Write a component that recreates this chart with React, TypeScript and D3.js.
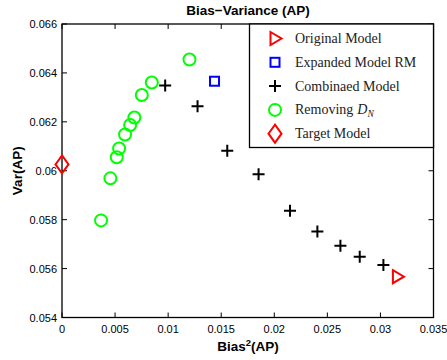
import React from "react";
import * as d3 from "d3";

const xTicks = [0, 0.005, 0.01, 0.015, 0.02, 0.025, 0.03, 0.035];
const yTicks = [0.054, 0.056, 0.058, 0.06, 0.062, 0.064, 0.066];
const xTickLabels = ["0", "0.005", "0.01", "0.015", "0.02", "0.025", "0.03", "0.035"];
const yTickLabels = ["0.054", "0.056", "0.058", "0.06", "0.062", "0.064", "0.066"];

const originalX = [0.0316];
const originalY = [0.05567];
const expandedX = [0.01437];
const expandedY = [0.06366];
const targetX = [0.0];
const targetY = [0.06026];
const combinedX = [0.00972, 0.01277, 0.01557, 0.01852, 0.02148, 0.02406, 0.02623, 0.02805, 0.03028];
const combinedY = [0.06349, 0.06264, 0.06082, 0.05986, 0.05836, 0.05752, 0.05693, 0.05648, 0.05615];
const removingX = [0.01201, 0.00846, 0.00752, 0.00682, 0.00642, 0.00594, 0.00538, 0.00516, 0.00456, 0.00368];
const removingY = [0.06455, 0.06361, 0.0631, 0.06218, 0.06187, 0.06148, 0.06091, 0.06055, 0.05969, 0.05797];

const legendLabels = ["Original Model", "Expanded Model RM", "Combinaed Model", "Removing", "Target Model"];

const W = 447, H = 360;
const L = 62, R = 433.5, T = 24, B = 317.5;

function Marker({ kind, x, y }: { kind: string; x: number; y: number }) {
  if (kind === "tri")
    return <path d={`M${x - 4.5},${y - 6.5} L${x + 6.5},${y} L${x - 4.5},${y + 6.5} Z`} fill="none" stroke="#ff0000" strokeWidth={2} />;
  if (kind === "sq")
    return <rect x={x - 4.5} y={y - 4.5} width={9} height={9} fill="none" stroke="#0000ff" strokeWidth={2} />;
  if (kind === "plus")
    return <path d={`M${x - 6},${y} H${x + 6} M${x},${y - 6} V${y + 6}`} stroke="#000" strokeWidth={2} />;
  if (kind === "circ")
    return <circle cx={x} cy={y} r={6} fill="none" stroke="#00ff00" strokeWidth={2} />;
  if (kind === "dia")
    return <path d={`M${x},${y - 9} L${x + 6.5},${y} L${x},${y + 9} L${x - 6.5},${y} Z`} fill="none" stroke="#ff0000" strokeWidth={2} />;
  return null;
}

export default function App() {
  const x = d3.scaleLinear().domain([0, 0.035]).range([L, R]);
  const y = d3.scaleLinear().domain([0.054, 0.066]).range([B, T]);
  const sans = "Liberation Sans, Arial, sans-serif";
  const serif = "Liberation Serif, Times New Roman, serif";
  const legendKinds = ["tri", "sq", "plus", "circ", "dia"];
  const legTop = 24, legLeft = 249.5, legBottom = 147.5;
  const rowY = (i: number) => 38.5 + i * 23.8;

  return (
    <svg width={W} height={H} style={{ position: "absolute", left: 0, top: 0, background: "#fff" }}>
      <rect x={0} y={0} width={W} height={H} fill="#fff" />
      {/* ticks */}
      {xTicks.map((t, i) => (
        <g key={"xt" + i}>
          <line x1={x(t)} x2={x(t)} y1={B} y2={B - 5} stroke="#000" />
          <line x1={x(t)} x2={x(t)} y1={T} y2={T + 5} stroke="#000" />
          <text x={x(t)} y={333} textAnchor="middle" fontFamily={sans} fontSize={11} fill="#000">{xTickLabels[i]}</text>
        </g>
      ))}
      {yTicks.map((t, i) => (
        <g key={"yt" + i}>
          <line x1={L} x2={L + 5} y1={y(t)} y2={y(t)} stroke="#000" />
          <line x1={R} x2={R - 5} y1={y(t)} y2={y(t)} stroke="#000" />
          <text x={57} y={y(t) + 4} textAnchor="end" fontFamily={sans} fontSize={11} fill="#000">{yTickLabels[i]}</text>
        </g>
      ))}
      <rect x={L} y={T} width={R - L} height={B - T} fill="none" stroke="#000" strokeWidth={1.3} />

      {/* data */}
      {combinedX.map((v, i) => <Marker key={"c" + i} kind="plus" x={x(v)} y={y(combinedY[i])} />)}
      {removingX.map((v, i) => <Marker key={"r" + i} kind="circ" x={x(v)} y={y(removingY[i])} />)}
      {originalX.map((v, i) => <Marker key={"o" + i} kind="tri" x={x(v)} y={y(originalY[i])} />)}
      {expandedX.map((v, i) => <Marker key={"e" + i} kind="sq" x={x(v)} y={y(expandedY[i])} />)}
      {targetX.map((v, i) => <Marker key={"t" + i} kind="dia" x={x(v)} y={y(targetY[i])} />)}

      {/* legend */}
      <rect x={legLeft} y={legTop} width={R - legLeft} height={legBottom - legTop} fill="#fff" stroke="#000" strokeWidth={1.3} />
      {legendKinds.map((k, i) => (
        <g key={"lg" + i}>
          <Marker kind={k} x={275} y={rowY(i)} />
          <text x={295} y={rowY(i) + 4.5} fontFamily={serif} fontSize={14} fill="#222">
            {legendLabels[i]}
            {i === 3 ? (
              <>
                <tspan fontStyle="italic" dx={4}>D</tspan>
                <tspan fontStyle="italic" fontSize={9.5} dy={3}>N</tspan>
              </>
            ) : null}
          </text>
        </g>
      ))}

      {/* titles */}
      <text x={248} y={15} textAnchor="middle" fontFamily={sans} fontWeight="bold" fontSize={13.5} fill="#000">Bias−Variance (AP)</text>
      <text x={248} y={351} textAnchor="middle" fontFamily={sans} fontWeight="bold" fontSize={13.5} fill="#000">
        Bias<tspan fontSize={9.5} dy={-5}>2</tspan><tspan dy={5}>(AP)</tspan>
      </text>
      <text transform={`translate(22,${(T + B) / 2}) rotate(-90)`} textAnchor="middle" fontFamily={sans} fontWeight="bold" fontSize={13.5} fill="#000">Var(AP)</text>
    </svg>
  );
}
